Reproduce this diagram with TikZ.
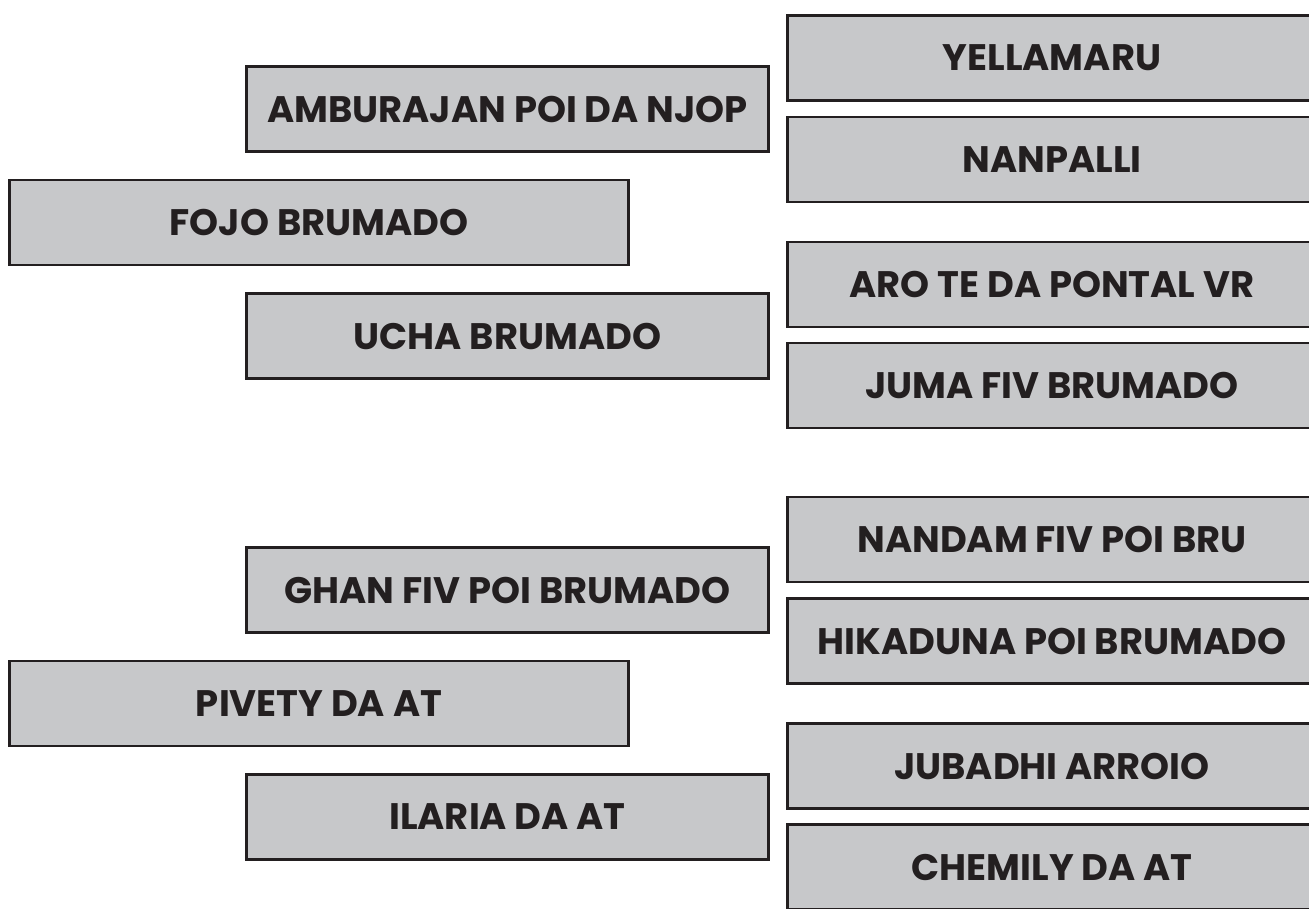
\documentclass[tikz,border=0pt]{standalone}
\usepackage{fontspec}
\setmainfont{Poppins}
\usepackage{tikz}
\definecolor{boxgray}{RGB}{199,200,202}
\definecolor{inkblack}{RGB}{35,31,32}

\begin{document}
\begin{tikzpicture}[x=0.02cm, y=-0.02cm,
	box/.style={draw=inkblack, fill=boxgray, line width=1.7pt, text=inkblack,
		inner sep=0pt, minimum height=85*0.02cm,
		font=\bfseries\fontsize{21}{25}\selectfont},
	midbox/.style={box, minimum width=522*0.02cm},
	widebox/.style={box, minimum width=619*0.02cm},
	sidebox/.style={box, minimum width=529*0.02cm}]

	% Frame
	\path[use as bounding box, clip] (0, 0) rectangle (1309, 909);

	% Left column
	\foreach \n/\y/\t in {amb/109/AMBURAJAN POI DA NJOP, ucha/336/UCHA BRUMADO,
		ghan/590/GHAN FIV POI BRUMADO, ilaria/817/ILARIA DA AT}
		\node[midbox] (\n) at (507.5, \y) {\t};
	\foreach \n/\y/\t in {fojo/222.5/FOJO BRUMADO, pivety/703.5/PIVETY DA AT}
		\node[widebox] (\n) at (319, \y) {\t};

	% Right column
	\foreach \n/\y/\t in {yella/58/YELLAMARU, nanp/159.5/NANPALLI,
		aro/284.5/ARO TE DA PONTAL VR, juma/385.5/JUMA FIV BRUMADO,
		nandam/539.5/NANDAM FIV POI BRU, hika/641/HIKADUNA POI BRUMADO,
		juba/766/JUBADHI ARROIO, chemily/867/CHEMILY DA AT}
		\node[sidebox] (\n) at (1052, \y) {\t};

\end{tikzpicture}
\end{document}
